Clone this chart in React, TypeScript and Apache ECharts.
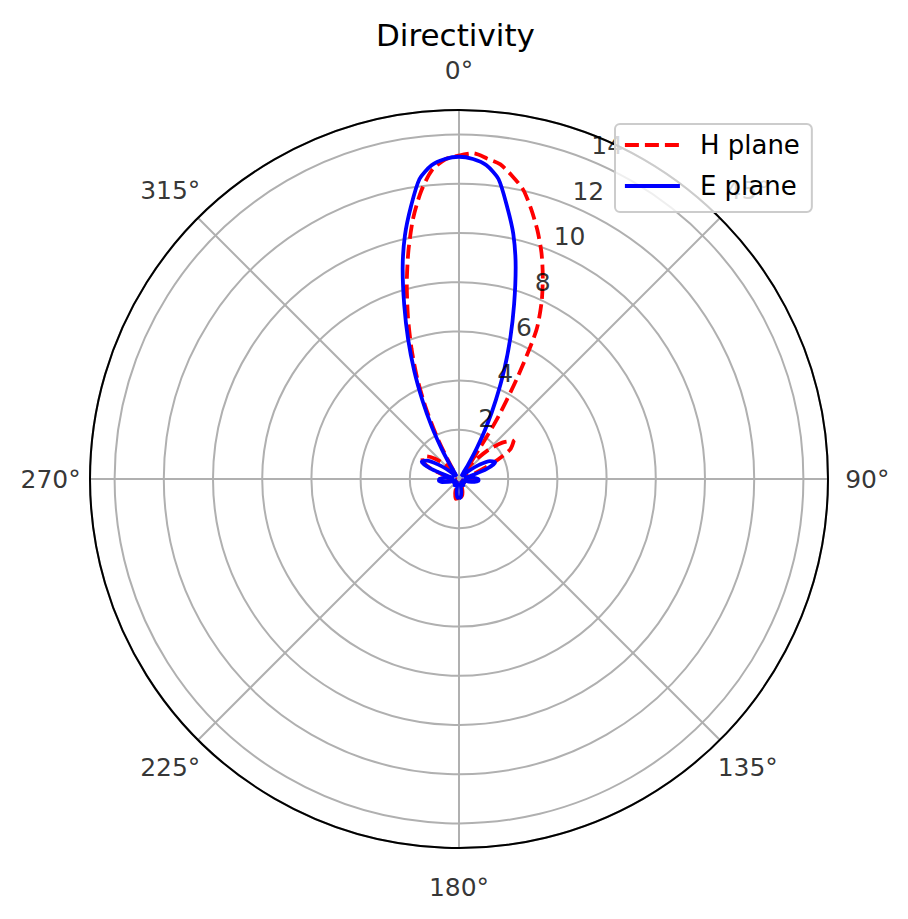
import React, { useEffect, useRef } from 'react';
import * as echarts from 'echarts';

// Angles (degrees, clockwise from north) at which the directivity was read
const THETA = [
  -180, -175, -170, -165, -160, -155, -150, -145, -140, -135, -130, -125, -120, -115, -110, -105,
  -100, -95, -90, -85, -80, -75, -70, -65, -60, -55, -50, -45, -40,
  -37.5, -35, -32.5, -30, -27.5, -25, -22.5, -20, -17.5, -15, -12.5, -10, -7.5, -5, -2.5,
  0,
  2.5, 5, 7.5, 10, 12.5, 15, 17.5, 20, 22.5, 25, 27.5, 30, 32.5, 35, 37.5,
  40, 45, 50, 55, 60, 65, 70, 75, 80, 85, 90, 95, 100, 105, 110, 115, 120, 125, 130, 135,
  140, 145, 150, 155, 160, 165, 170, 175, 180,
];

const H_PLANE = [
  0.75, 0.8, 0.82, 0.6, 0.3, 0.15, 0.25, 0.3, 0.2, 0.1, 0.15, 0.25, 0.2, 0.1, 0.2, 0.35,
  0.45, 0.4, 0.25, 0.15, 0.3, 0.7, 1.2, 1.6, 1.72, 1.6, 1.3, 0.9, 0.5,
  0.3, 0.2, 0.45, 1.0, 2.0, 3.2, 4.45, 5.65, 6.9, 8.2, 9.5, 10.75, 11.8, 12.6, 13.0,
  13.15,
  13.25, 13.08, 12.9, 12.5, 12.05, 11.35, 10.6, 9.8, 8.9, 7.95, 6.8, 4.7, 2.8, 1.0, 0.45,
  0.9, 1.65, 2.3, 2.72, 2.4, 1.5, 0.7, 0.3, 0.35, 0.5, 0.55, 0.45, 0.3, 0.15, 0.2, 0.3, 0.25, 0.15, 0.1, 0.2,
  0.3, 0.25, 0.15, 0.2, 0.35, 0.55, 0.7, 0.75, 0.75,
];

const E_PLANE = [
  0.8, 0.75, 0.55, 0.3, 0.15, 0.25, 0.35, 0.3, 0.15, 0.1, 0.2, 0.3, 0.25, 0.1, 0.2, 0.45,
  0.7, 0.82, 0.8, 0.55, 0.2, 0.5, 1.2, 1.67, 1.5, 1.0, 0.5, 0.2, 0.15,
  0.2, 0.3, 0.7, 1.4, 2.4, 3.5, 4.75, 6.05, 7.4, 8.85, 10.15, 11.25, 12.3, 12.8, 13.02,
  13.1,
  13.02, 12.8, 12.3, 11.25, 10.2, 8.9, 7.45, 6.1, 4.8, 3.55, 2.45, 1.45, 0.7, 0.3, 0.2,
  0.15, 0.2, 0.5, 1.0, 1.45, 1.62, 1.2, 0.5, 0.2, 0.55, 0.78, 0.8, 0.65, 0.4, 0.2, 0.1, 0.25, 0.3, 0.2, 0.1,
  0.15, 0.3, 0.35, 0.25, 0.15, 0.3, 0.55, 0.75, 0.8,
];

const R_TICKS = [2, 4, 6, 8, 10, 12, 14];
const R_MAX = 15;
const R_LABEL_ANGLE = 22.5;
const ANGLE_TICKS = [0, 45, 90, 135, 180, 225, 270, 315];
const ANGLE_LABELS = ['0°', '45°', '90°', '135°', '180°', '225°', '270°', '315°'];
const ANGLE_LABEL_RADIUS = 16.6;

const FONT = 'DejaVu Sans';
const LINE_W = 3.8;
const toAngle = (t: number) => (t + 360) % 360;

export default function App() {
  const ref = useRef<HTMLDivElement>(null);

  useEffect(() => {
    if (!ref.current) return;
    const chart = echarts.init(ref.current, undefined, { renderer: 'svg' });
    chart.setOption({
      animation: false,
      backgroundColor: '#ffffff',
      textStyle: { fontFamily: FONT },
      title: {
        text: 'Directivity',
        left: 376,
        top: 19,
        padding: 0,
        textStyle: { fontFamily: FONT, fontSize: 31, fontWeight: 'normal', color: '#000' },
      },
      legend: {
        data: ['H plane', 'E plane'],
        orient: 'vertical',
        left: 615,
        top: 124,
        padding: [8, 12, 13, 8],
        itemGap: 15,
        itemWidth: 55,
        itemHeight: 14,
        itemStyle: { opacity: 0 },
        lineStyle: { width: LINE_W },
        backgroundColor: 'rgba(255,255,255,0.8)',
        borderColor: '#cccccc',
        borderWidth: 2,
        borderRadius: 5,
        textStyle: { fontFamily: FONT, fontSize: 26, color: '#000', lineHeight: 26, padding: [0, 0, 0, 15] },
      },
      polar: { center: [459, 479], radius: 369 },
      angleAxis: {
        type: 'value',
        min: 0,
        max: 360,
        interval: 45,
        startAngle: 90,
        clockwise: true,
        axisLine: { show: true, lineStyle: { color: '#000', width: 2 } },
        axisTick: { show: false },
        axisLabel: { show: false },
        splitLine: { show: true, lineStyle: { color: '#b0b0b0', width: 2 } },
      },
      radiusAxis: {
        type: 'value',
        min: 0,
        max: R_MAX,
        interval: 2,
        axisLine: { show: false },
        axisTick: { show: false },
        axisLabel: { show: false },
        splitLine: { show: true, lineStyle: { color: '#b0b0b0', width: 2 } },
      },
      series: [
        {
          name: 'H plane',
          type: 'line',
          coordinateSystem: 'polar',
          symbol: 'none',
          showSymbol: false,
          smooth: 0.25,
          z: 2,
          lineStyle: { color: '#ff0000', width: LINE_W, type: [14, 6] },
          itemStyle: { color: '#ff0000' },
          data: THETA.map((t, i) => [H_PLANE[i], toAngle(t)]),
        },
        {
          name: 'E plane',
          type: 'line',
          coordinateSystem: 'polar',
          symbol: 'none',
          showSymbol: false,
          smooth: 0.25,
          z: 2,
          lineStyle: { color: '#0000ff', width: LINE_W },
          itemStyle: { color: '#0000ff' },
          data: THETA.map((t, i) => [E_PLANE[i], toAngle(t)]),
        },
        {
          name: 'rticks',
          type: 'scatter',
          coordinateSystem: 'polar',
          silent: true,
          clip: false,
          z: 3,
          symbol: 'circle',
          symbolSize: 1,
          itemStyle: { color: 'rgba(0,0,0,0)' },
          label: {
            show: true,
            position: [1, -2],
            align: 'left',
            verticalAlign: 'bottom',
            fontFamily: FONT,
            fontSize: 25,
            color: '#000',
            formatter: (p: any) => String(p.value[0]),
          },
          data: R_TICKS.map((r) => [r, R_LABEL_ANGLE]),
        },
        {
          name: 'aticks',
          type: 'scatter',
          coordinateSystem: 'polar',
          silent: true,
          clip: false,
          z: 3,
          symbol: 'circle',
          symbolSize: 1,
          itemStyle: { color: 'rgba(0,0,0,0)' },
          label: {
            show: true,
            position: 'inside',
            fontFamily: FONT,
            fontSize: 25,
            color: '#000',
            formatter: (p: any) => ANGLE_LABELS[p.dataIndex],
          },
          data: ANGLE_TICKS.map((a) => [ANGLE_LABEL_RADIUS, a]),
        },
      ],
    });
    return () => chart.dispose();
  }, []);

  return (
    <div
      ref={ref}
      style={{ position: 'absolute', left: 0, top: 0, width: 908, height: 919 }}
    />
  );
}
